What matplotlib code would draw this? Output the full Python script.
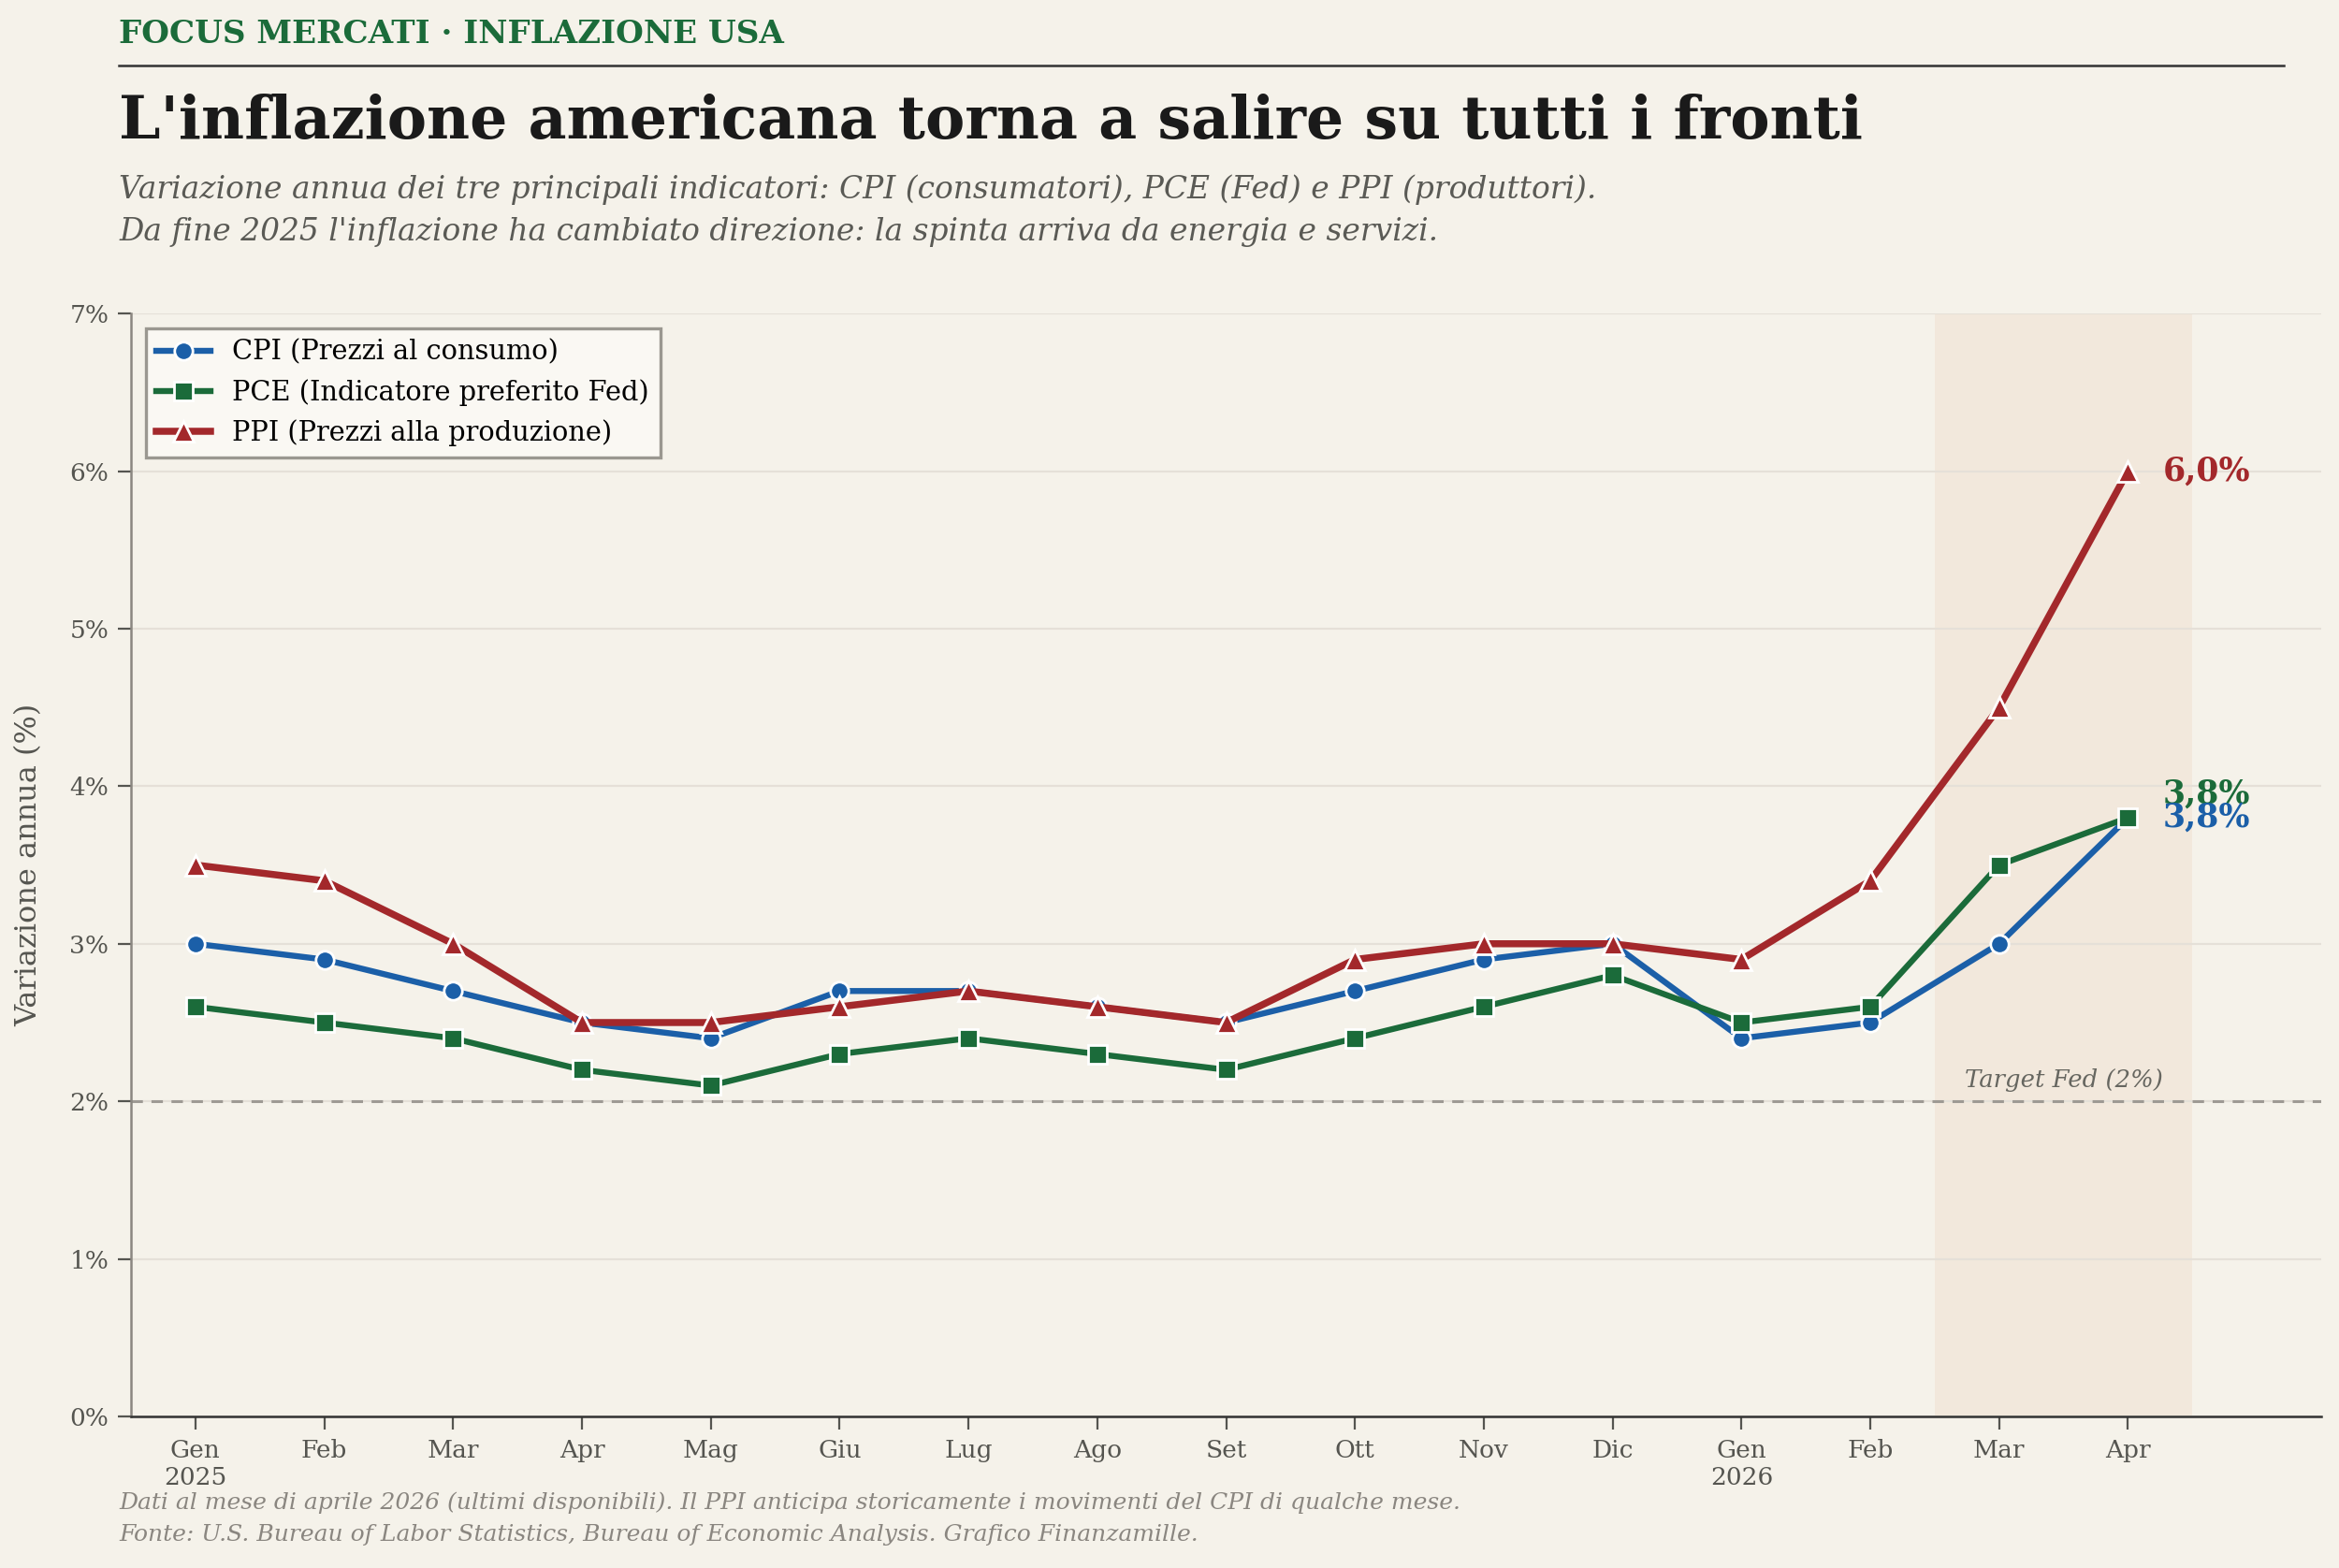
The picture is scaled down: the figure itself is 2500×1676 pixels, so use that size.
import matplotlib
matplotlib.use("Agg")
import matplotlib.pyplot as plt
from matplotlib.lines import Line2D

# dati (variazione annua %)
mesi = ["Gen\n2025", "Feb", "Mar", "Apr", "Mag", "Giu", "Lug", "Ago", "Set",
        "Ott", "Nov", "Dic", "Gen\n2026", "Feb", "Mar", "Apr"]
cpi = [3.0, 2.9, 2.7, 2.5, 2.4, 2.7, 2.7, 2.6, 2.5, 2.7, 2.9, 3.0, 2.4, 2.5, 3.0, 3.8]
pce = [2.6, 2.5, 2.4, 2.2, 2.1, 2.3, 2.4, 2.3, 2.2, 2.4, 2.6, 2.8, 2.5, 2.6, 3.5, 3.8]
ppi = [3.5, 3.4, 3.0, 2.5, 2.5, 2.6, 2.7, 2.6, 2.5, 2.9, 3.0, 3.0, 2.9, 3.4, 4.5, 6.0]
target_fed = 2.0

BG = "#f5f2ea"
BLU = "#1b5fa8"
VERDE = "#1b6b3a"
ROSSO = "#a3282b"

plt.rcParams["font.family"] = ["DejaVu Serif"]

fig = plt.figure(figsize=(12.5, 8.38), dpi=200, facecolor=BG)
ax = fig.add_axes([0.056, 0.0967, 0.9364, 0.7033])
ax.set_facecolor(BG)

x = list(range(len(mesi)))

# periodo evidenziato
ax.axvspan(13.5, 15.5, color="#f0e0d2", alpha=0.55, lw=0, zorder=0)

ax.axhline(target_fed, color="#9e9a94", ls=(0, (4, 3)), lw=1.1, zorder=1)
ax.text(14.5, target_fed + 0.06, "Target Fed (2%)", ha="center", va="bottom",
        fontsize=9.3, style="italic", color="#666660")

ax.plot(x, cpi, color=BLU, lw=2.3, marker="o", ms=7, mec="white", mew=1.0,
        label="CPI (Prezzi al consumo)", zorder=3)
ax.plot(x, pce, color=VERDE, lw=2.3, marker="s", ms=7, mec="white", mew=1.0,
        label="PCE (Indicatore preferito Fed)", zorder=4)
ax.plot(x, ppi, color=ROSSO, lw=2.7, marker="^", ms=8, mec="white", mew=1.0,
        label="PPI (Prezzi alla produzione)", zorder=5)

# etichette finali
def fmt(v):
    return f"{v:.1f}%".replace(".", ",")

ax.text(x[-1] + 0.27, ppi[-1], fmt(ppi[-1]), color=ROSSO, fontsize=12.5,
        fontweight="bold", va="center", ha="left")
ax.text(x[-1] + 0.27, pce[-1] + 0.15, fmt(pce[-1]), color=VERDE, fontsize=12.5,
        fontweight="bold", va="center", ha="left")
ax.text(x[-1] + 0.27, cpi[-1], fmt(cpi[-1]), color=BLU, fontsize=12.5,
        fontweight="bold", va="center", ha="left")

ax.set_xlim(-0.5, 16.5)
ax.set_ylim(0, 7)
ax.set_xticks(x)
ax.set_xticklabels(mesi)
ax.set_yticks(range(0, 8))
ax.set_yticklabels([f"{i}%" for i in range(0, 8)])
ax.tick_params(axis="both", labelsize=9.5, colors="#555550", length=5, width=0.8)
ax.tick_params(axis="both", color="#555550")
ax.grid(axis="y", color="#e5e0d8", lw=0.8, zorder=0)
ax.set_axisbelow(True)

for s in ["top", "right"]:
    ax.spines[s].set_visible(False)
ax.spines["left"].set_color("#8a8680")
ax.spines["left"].set_linewidth(0.9)
ax.spines["bottom"].set_color("#333333")
ax.spines["bottom"].set_linewidth(0.9)

ax.set_ylabel("Variazione annua (%)", fontsize=11.5, color="#555550", labelpad=10)

leg = ax.legend(loc="upper left", fontsize=10.4, frameon=True, fancybox=False,
                edgecolor="#9a9790", facecolor="#faf8f3", framealpha=1,
                borderpad=0.4, handlelength=2.0, labelspacing=0.5,
                borderaxespad=0, bbox_to_anchor=(0.0068, 0.9865))
leg.get_frame().set_linewidth(1.2)

# intestazione
fig.text(0.051, 0.9726, "FOCUS MERCATI · INFLAZIONE USA", fontsize=12.3,
         fontweight="bold", color=VERDE, va="baseline")
fig.add_artist(Line2D([0.051, 0.9764], [0.9582, 0.9582], color="#333333",
                      lw=0.9, transform=fig.transFigure))
fig.text(0.051, 0.9117, "L'inflazione americana torna a salire su tutti i fronti",
         fontsize=22.8, fontweight="bold", color="#1a1a1a", va="baseline")
fig.text(0.051, 0.8735,
         "Variazione annua dei tre principali indicatori: CPI (consumatori), PCE (Fed) e PPI (produttori).",
         fontsize=11.85, style="italic", color="#5a5a55", va="baseline")
fig.text(0.051, 0.8467,
         "Da fine 2025 l'inflazione ha cambiato direzione: la spinta arriva da energia e servizi.",
         fontsize=11.85, style="italic", color="#5a5a55", va="baseline")

# note
fig.text(0.051, 0.0376,
         "Dati al mese di aprile 2026 (ultimi disponibili). Il PPI anticipa storicamente i movimenti del CPI di qualche mese.",
         fontsize=9, style="italic", color="#8a8680", va="baseline")
fig.text(0.051, 0.0173,
         "Fonte: U.S. Bureau of Labor Statistics, Bureau of Economic Analysis. Grafico Finanzamille.",
         fontsize=9, style="italic", color="#8a8680", va="baseline")

fig.savefig("out.png", dpi=200, facecolor=BG)
